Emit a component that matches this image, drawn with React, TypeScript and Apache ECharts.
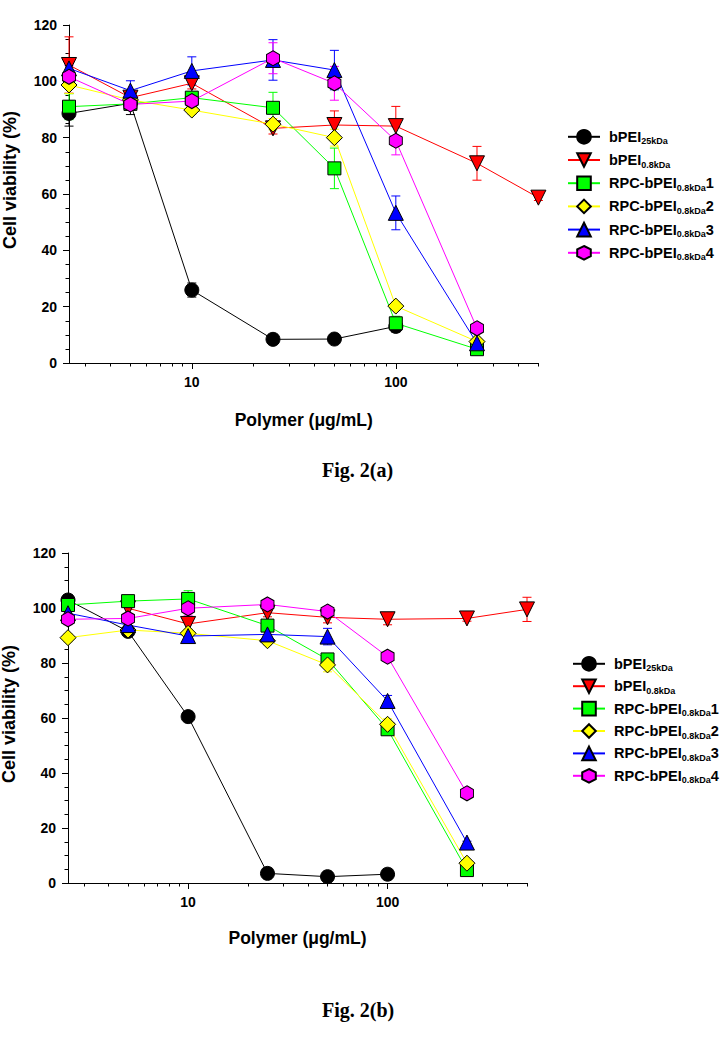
import React, { useEffect, useRef } from "react";
import * as echarts from "echarts";

// Concentrations (µg/mL)
const conc = [2.5, 5, 10, 25, 50, 100, 250, 500];
const minorTickValues = [3, 4, 5, 6, 7, 8, 9, 20, 30, 40, 50, 60, 70, 80, 90, 200, 300, 400, 500];
const majorTickLabels = [10, 100];

// Legend / series names
const nameMain = ["bPEI", "bPEI", "RPC-bPEI", "RPC-bPEI", "RPC-bPEI", "RPC-bPEI"];
const nameSub = ["25kDa", "0.8kDa", "0.8kDa", "0.8kDa", "0.8kDa", "0.8kDa"];
const nameSuffix = ["", "", "1", "2", "3", "4"];
const names = nameMain.map((m, i) => m + nameSub[i] + nameSuffix[i]);

// Panel (a) values (%), and SD
const a_bPEI25 = [88.6, 92.2, 25.9, 8.4, 8.5, 13.0];
const a_bPEI25_err = [4.5, 4, 2.5, 1.5, 1, 2];
const a_bPEI08 = [105.8, 94.2, 99.3, 83.3, 84.5, 84.1, 70.9, 58.7];
const a_bPEI08_err = [10, 2, 2, 2, 5, 7, 6, 1];
const a_RPC1 = [91.0, 92.0, 94.2, 90.6, 69.1, 14.1, 4.9];
const a_RPC1_err = [4.6, 1.5, 1.5, 5.5, 7.2, 2.5, 1];
const a_RPC2 = [98.7, 93.4, 89.8, 84.8, 80.0, 20.2, 7.6];
const a_RPC2_err = [3, 2, 1.5, 2, 3, 1.5, 1];
const a_RPC3 = [104.6, 96.7, 103.7, 107.6, 104.0, 53.3, 7.0];
const a_RPC3_err = [2.5, 3.5, 5, 7.2, 7, 6, 1];
const a_RPC4 = [101.6, 91.8, 93.0, 108.2, 99.3, 78.9, 12.3];
const a_RPC4_err = [4, 2, 3, 5.5, 6, 5, 1];

// Panel (b) values (%), and SD
const b_bPEI25 = [102.9, 91.5, 60.5, 3.5, 2.3, 3.2];
const b_bPEI25_err = [2, 1.5, 1.5, 0.5, 0.5, 0.5];
const b_bPEI08 = [null, 99.9, 94.2, 98.3, 96.6, 95.9, 96.2, 99.5];
const b_bPEI08_err = [0, 2, 2.5, 1.5, 2, 2, 1, 4.4];
const b_RPC1 = [101.1, 102.5, 103.3, 93.6, 81.3, 55.9, 4.7];
const b_RPC1_err = [2.5, 1, 3, 1.5, 1.5, 2, 0.5];
const b_RPC2 = [89.2, 92.0, 90.8, 88.1, 79.3, 57.7, 7.2];
const b_RPC2_err = [1.5, 1.5, 1.5, 1.5, 2.5, 2, 0.5];
const b_RPC3 = [98.1, 93.8, 89.8, 90.4, 89.6, 66.2, 14.7];
const b_RPC3_err = [1, 1, 1.5, 1.5, 3, 2, 0.5];
const b_RPC4 = [95.9, 96.2, 99.9, 101.3, 98.7, 82.3, 32.6];
const b_RPC4_err = [2, 1, 2.5, 1, 1, 1, 0.5];

const colors = ["#000000", "#ff0000", "#00ff00", "#ffff00", "#0000ff", "#ff00ff"];
const HEX = "path://M0,-10L8.66,-5L8.66,5L0,10L-8.66,5L-8.66,-5Z";
const symbols = ["circle", "triangle", "rect", "diamond", "triangle", HEX];
const symbolRotates = [0, 180, 0, 0, 0, 0];
const symbolSizes: any[] = [14, 15, 13, 16, 15, [13, 15]];

const FONT = 'Arial, "Liberation Sans", Helvetica, sans-serif';
const SERIF = '"Times New Roman", "Liberation Serif", serif';

function App() {
  const ref = useRef<HTMLDivElement>(null);
  useEffect(() => {
    if (!ref.current) return;
    const chart = echarts.init(ref.current, null, { renderer: "svg" });

    const panels = [
      {
        vals: [a_bPEI25, a_bPEI08, a_RPC1, a_RPC2, a_RPC3, a_RPC4],
        errs: [a_bPEI25_err, a_bPEI08_err, a_RPC1_err, a_RPC2_err, a_RPC3_err, a_RPC4_err],
      },
      {
        vals: [b_bPEI25, b_bPEI08, b_RPC1, b_RPC2, b_RPC3, b_RPC4],
        errs: [b_bPEI25_err, b_bPEI08_err, b_RPC1_err, b_RPC2_err, b_RPC3_err, b_RPC4_err],
      },
    ];

    const series: any[] = [];
    panels.forEach((p, pi) => {
      p.vals.forEach((vals, si) => {
        const pts: any[] = [];
        const errPts: any[] = [];
        vals.forEach((v, i) => {
          if (v === null || v === undefined) return;
          pts.push([conc[i], v]);
          errPts.push([conc[i], v, p.errs[si][i]]);
        });
        const color = colors[si];
        series.push({
          type: "custom",
          name: "err-" + pi + "-" + si,
          xAxisIndex: pi * 2,
          yAxisIndex: pi,
          data: errPts,
          encode: { x: 0, y: 1 },
          silent: true,
          renderItem: (params: any, api: any) => {
            const x = api.value(0);
            const y = api.value(1);
            const e = api.value(2);
            const c = api.coord([x, y]);
            const t = api.coord([x, y + e]);
            const b = api.coord([x, y - e]);
            const hw = 4.5;
            const style = { stroke: color, lineWidth: 1 };
            return {
              type: "group",
              children: [
                { type: "line", shape: { x1: c[0], y1: t[1], x2: c[0], y2: b[1] }, style },
                { type: "line", shape: { x1: c[0] - hw, y1: t[1], x2: c[0] + hw, y2: t[1] }, style },
                { type: "line", shape: { x1: c[0] - hw, y1: b[1], x2: c[0] + hw, y2: b[1] }, style },
              ],
            };
          },
        });
        series.push({
          type: "line",
          name: names[si],
          xAxisIndex: pi * 2,
          yAxisIndex: pi,
          data: pts,
          symbol: symbols[si],
          symbolRotate: symbolRotates[si],
          symbolSize: symbolSizes[si],
          showAllSymbol: true,
          lineStyle: { color, width: 1 },
          itemStyle: { color, borderColor: "#000", borderWidth: 1 },
          emphasis: { disabled: true },
        });
      });
    });

    const lmin = Math.log10(2.5);
    const lmax = Math.log10(500);
    const axisTitle = { fontFamily: FONT, fontWeight: "bold", fontSize: 18, color: "#000" };
    const makeX = (gi: number, gap: number) => [
      {
        gridIndex: gi,
        type: "log",
        logBase: 10,
        min: 2.5,
        max: 500,
        name: "Polymer (μg/mL)",
        nameLocation: "middle",
        nameGap: gap,
        nameTextStyle: { ...axisTitle, fontSize: 17.5 },
        axisLine: { show: true, lineStyle: { color: "#000", width: 1 } },
        axisTick: { show: true, length: 6, lineStyle: { color: "#000" } },
        axisLabel: {
          showMinLabel: false,
          showMaxLabel: false,
          margin: 12,
          fontFamily: FONT,
          fontWeight: "bold",
          fontSize: 14,
          color: "#000",
          formatter: (v: number) => (majorTickLabels.indexOf(Math.round(v)) >= 0 ? String(Math.round(v)) : ""),
        },
        splitLine: { show: false },
        minorTick: { show: false },
      },
      {
        gridIndex: gi,
        type: "value",
        position: "bottom",
        min: lmin,
        max: lmax,
        axisLine: { show: false },
        axisLabel: { show: false },
        splitLine: { show: false },
        axisTick: {
          show: true,
          length: 3.5,
          customValues: minorTickValues.map((v) => Math.log10(v)),
          lineStyle: { color: "#000" },
        },
      },
    ];
    const makeY = (gi: number, pad: number) => ({
      gridIndex: gi,
      type: "value",
      min: 0,
      max: 120,
      interval: 20,
      name: "Cell viability (%)",
      nameLocation: "middle",
      nameGap: 50,
      nameTextStyle: { ...axisTitle, padding: [0, 0, 0, pad] },
      axisLine: { show: true, lineStyle: { color: "#000", width: 1 } },
      axisTick: { show: true, length: 6, lineStyle: { color: "#000" } },
      minorTick: { show: true, splitNumber: 4, length: 3.5, lineStyle: { color: "#000" } },
      axisLabel: { margin: 12, fontFamily: FONT, fontWeight: "bold", fontSize: 14, color: "#000" },
      splitLine: { show: false },
    });

    const legendFormatter = (name: string) => {
      const i = names.indexOf(name);
      let s = `{m|${nameMain[i]}}{s|${nameSub[i]}}`;
      if (nameSuffix[i]) s += `{m|${nameSuffix[i]}}`;
      return s;
    };
    const legendText = {
      padding: [0, 0, 0, 4],
      rich: {
        m: { fontFamily: FONT, fontWeight: "bold", fontSize: 14.5, color: "#000", lineHeight: 18 },
        s: { fontFamily: FONT, fontWeight: "bold", fontSize: 9, color: "#000", lineHeight: 8, verticalAlign: "bottom" },
      },
    };
    const makeLegend = (left: number, top: number, gap: number) => ({
      data: names,
      orient: "vertical",
      left,
      top,
      itemWidth: 32,
      itemHeight: 17,
      itemGap: gap,
      selectedMode: false,
      formatter: legendFormatter,
      textStyle: legendText,
    });

    chart.setOption({
      animation: false,
      backgroundColor: "#fff",
      grid: [
        { left: 69, top: 25, width: 469.4, height: 338, outerBoundsMode: "none", containLabel: false },
        { left: 68, top: 553, width: 459, height: 330, outerBoundsMode: "none", containLabel: false },
      ],
      xAxis: [...makeX(0, 48), ...makeX(1, 46)],
      yAxis: [makeY(0, 28), makeY(1, 8)],
      legend: [makeLegend(562, 124, 6.4), makeLegend(567, 651, 5.6)],
      graphic: [
        {
          type: "text",
          left: 322,
          top: 460,
          style: { text: "Fig. 2(a)", fontFamily: SERIF, fontWeight: "bold", fontSize: 20, fill: "#000" },
        },
        {
          type: "text",
          left: 322,
          top: 1000,
          style: { text: "Fig. 2(b)", fontFamily: SERIF, fontWeight: "bold", fontSize: 20, fill: "#000" },
        },
      ],
      series,
    });
    return () => chart.dispose();
  }, []);
  return (
    <div
      ref={ref}
      style={{ position: "absolute", left: 0, top: 0, width: 722, height: 1050, background: "#fff" }}
    />
  );
}

export default App;
